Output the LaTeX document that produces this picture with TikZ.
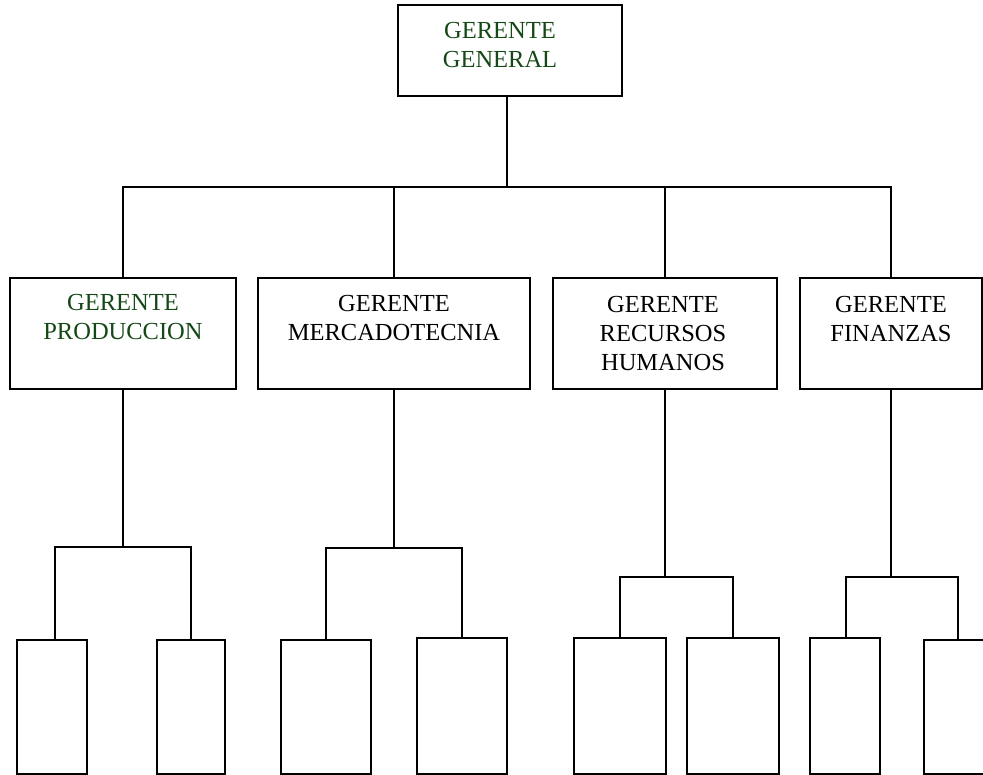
\documentclass[tikz,border=0pt]{standalone}
\usepackage{fontspec}
\setmainfont{Liberation Serif}
\definecolor{dkgreen}{RGB}{20,72,22}
\begin{document}
\begin{tikzpicture}[x=1pt,y=-1pt,
  box/.style={draw=black, inner sep=0pt, line width=2pt},
  lbl/.style={inner sep=0pt, align=center, font=\fontsize{24.5}{29}\selectfont, anchor=north},
  link/.style={draw=black, line width=2pt}]
\useasboundingbox (0,0) rectangle (983,775);
\clip (0,0) rectangle (983,775);
% top
\node[box, minimum width=224pt, minimum height=91pt] (gg) at (510,50.5) {};
\node[lbl, text=dkgreen] (ggt) at (500,22) {GERENTE\\GENERAL};
% second row
\node[box, minimum width=226pt, minimum height=111pt] (p) at (123,333.5) {};
\node[box, minimum width=272pt, minimum height=111pt] (m) at (394,333.5) {};
\node[box, minimum width=224pt, minimum height=111pt] (r) at (665,333.5) {};
\node[box, minimum width=182pt, minimum height=111pt] (f) at (891,333.5) {};
\node[lbl, text=dkgreen] (pt) at (123,294) {GERENTE\\PRODUCCION};
\node[lbl] (mt) at (394,295) {GERENTE\\MERCADOTECNIA};
\node[lbl] (rt) at (663,296) {GERENTE\\RECURSOS\\HUMANOS};
\node[lbl] (ft) at (891,296) {GERENTE\\FINANZAS};
% bottom row
\node[box, minimum width=70pt, minimum height=134pt] (p1) at (52,707) {};
\node[box, minimum width=68pt, minimum height=134pt] (p2) at (191,707) {};
\node[box, minimum width=90pt, minimum height=134pt] (m1) at (326,707) {};
\node[box, minimum width=90pt, minimum height=136pt] (m2) at (462,706) {};
\node[box, minimum width=92pt, minimum height=136pt] (r1) at (620,706) {};
\node[box, minimum width=92pt, minimum height=136pt] (r2) at (733,706) {};
\node[box, minimum width=70pt, minimum height=136pt] (f1) at (845,706) {};
\node[box, minimum width=76pt, minimum height=134pt] (f2) at (962,707) {};
% connectors
\coordinate (j0) at (507,187);
\draw[link] (gg.south -| j0) -- (j0);
\draw[link] (p.north) |- (j0);
\draw[link] (m.north) |- (j0);
\draw[link] (r.north) |- (j0);
\draw[link] (f.north) |- (j0);
\coordinate (jp) at (123,547);
\coordinate (jm) at (394,548);
\coordinate (jr) at (665,577);
\coordinate (jf) at (891,577);
\draw[link] (p.south) -- (jp);
\draw[link] (m.south) -- (jm);
\draw[link] (r.south) -- (jr);
\draw[link] (f.south) -- (jf);
\draw[link] (jp) -| ([xshift=3pt]p1.north);
\draw[link] (jp) -| (p2.north);
\draw[link] (jm) -| (m1.north);
\draw[link] (jm) -| (m2.north);
\draw[link] (jr) -| (r1.north);
\draw[link] (jr) -| (r2.north);
\draw[link] (jf) -| ([xshift=1pt]f1.north);
\draw[link] (jf) -| ([xshift=-4pt]f2.north);
\end{tikzpicture}
\end{document}
